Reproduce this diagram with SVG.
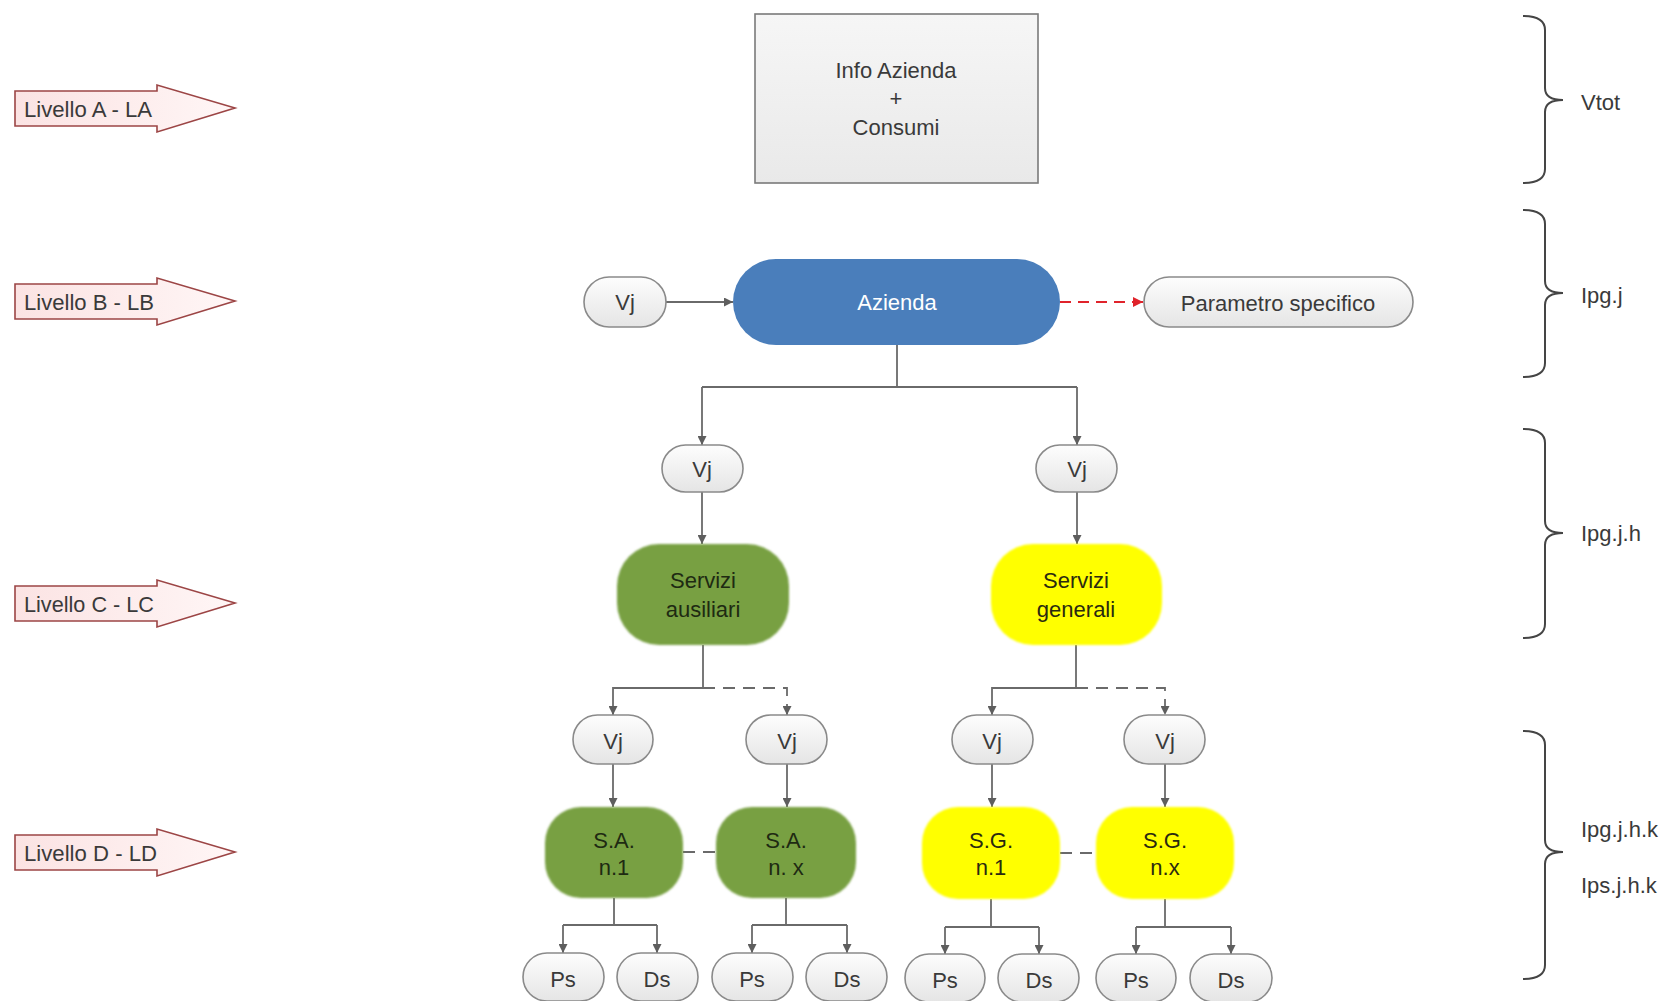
<svg xmlns="http://www.w3.org/2000/svg" width="1670" height="1001" viewBox="0 0 1670 1001">
<style>
  text { font-family: "Liberation Sans", Arial, sans-serif; font-size: 22px; fill: #3a3a3a; }
  .c { text-anchor: middle; }
  .pill { fill: url(#gGray); stroke: #8a8a8a; stroke-width: 1.6; }
  .lvl { fill: url(#gPink); stroke: #9c4545; stroke-width: 1.6; }
  .brace { fill: none; stroke: #454545; stroke-width: 2; }
  .conn { fill: none; stroke: #6a6a6a; stroke-width: 1.8; }
  .dash { fill: none; stroke: #6a6a6a; stroke-width: 1.8; stroke-dasharray: 12 8; }
  .red { fill: none; stroke: #e0232b; stroke-width: 2; stroke-dasharray: 11 7; }
</style>
<defs>
  <linearGradient id="gGray" x1="0" y1="0" x2="0" y2="1">
    <stop offset="0" stop-color="#fdfdfd"/>
    <stop offset="1" stop-color="#e5e5e5"/>
  </linearGradient>
  <linearGradient id="gBox" x1="0" y1="0" x2="0" y2="1">
    <stop offset="0" stop-color="#f6f6f6"/>
    <stop offset="1" stop-color="#e9e9e9"/>
  </linearGradient>
  <linearGradient id="gPink" x1="0" y1="0" x2="1" y2="0">
    <stop offset="0" stop-color="#fbe3e3"/>
    <stop offset="1" stop-color="#fff6f6"/>
  </linearGradient>
  <filter id="soft" x="-5%" y="-5%" width="110%" height="110%">
    <feGaussianBlur stdDeviation="1.2"/>
  </filter>
  <marker id="ah" viewBox="0 0 10 10" refX="10" refY="5" markerWidth="9" markerHeight="9" markerUnits="userSpaceOnUse" orient="auto">
    <path d="M0,0 L10,5 L0,10 z" fill="#5e5e5e"/>
  </marker>
  <marker id="ahr" viewBox="0 0 10 10" refX="10" refY="5" markerWidth="10" markerHeight="10" markerUnits="userSpaceOnUse" orient="auto">
    <path d="M0,0 L10,5 L0,10 z" fill="#e0232b"/>
  </marker>
</defs>

<!-- Level arrows -->
<g id="livelloA">
  <polygon class="lvl" points="15,91 157,91 157,85 235,108 157,132 157,126 15,126"/>
  <text x="24" y="117" textLength="128" lengthAdjust="spacingAndGlyphs" font-size="24">Livello A - LA</text>
</g>
<g id="livelloB">
  <polygon class="lvl" points="15,284 157,284 157,278 235,301 157,325 157,319 15,319"/>
  <text x="24" y="310" textLength="130" lengthAdjust="spacingAndGlyphs" font-size="24">Livello B - LB</text>
</g>
<g id="livelloC">
  <polygon class="lvl" points="15,586 157,586 157,580 235,603 157,627 157,621 15,621"/>
  <text x="24" y="612" textLength="130" lengthAdjust="spacingAndGlyphs" font-size="24">Livello C - LC</text>
</g>
<g id="livelloD">
  <polygon class="lvl" points="15,835 157,835 157,829 235,852 157,876 157,870 15,870"/>
  <text x="24" y="861" textLength="133" lengthAdjust="spacingAndGlyphs" font-size="24">Livello D - LD</text>
</g>

<!-- Braces -->
<g id="braces">
  <path class="brace" d="M1523,16 Q1545,16 1545,30 L1545,88 Q1545,100 1563,100 Q1545,100 1545,112 L1545,169 Q1545,183 1523,183"/>
  <path class="brace" d="M1523,210 Q1545,210 1545,224 L1545,281 Q1545,293 1563,293 Q1545,293 1545,305 L1545,363 Q1545,377 1523,377"/>
  <path class="brace" d="M1523,429 Q1545,429 1545,443 L1545,521 Q1545,533 1563,533 Q1545,533 1545,545 L1545,624 Q1545,638 1523,638"/>
  <path class="brace" d="M1523,731 Q1545,731 1545,745 L1545,840 Q1545,852 1563,852 Q1545,852 1545,864 L1545,965 Q1545,979 1523,979"/>
</g>
<g id="braceLabels">
  <text x="1581" y="110">Vtot</text>
  <text x="1581" y="303">Ipg.j</text>
  <text x="1581" y="541">Ipg.j.h</text>
  <text x="1581" y="837">Ipg.j.h.k</text>
  <text x="1581" y="893">Ips.j.h.k</text>
</g>

<!-- Connectors -->
<g id="connectors">
  <path class="conn" d="M666,302 H733" marker-end="url(#ah)"/>
  <path class="red" d="M1060,302 H1143" marker-end="url(#ahr)"/>
  <path class="conn" d="M897,345 V387 M702,387 H1077"/>
  <path class="conn" d="M702,387 V445" marker-end="url(#ah)"/>
  <path class="conn" d="M1077,387 V445" marker-end="url(#ah)"/>
  <path class="conn" d="M702,492 V544" marker-end="url(#ah)"/>
  <path class="conn" d="M1077,492 V544" marker-end="url(#ah)"/>

  <path class="conn" d="M703,645 V688 H613 V715" marker-end="url(#ah)"/>
  <path class="dash" d="M703,688 H787 V715" marker-end="url(#ah)"/>
  <path class="conn" d="M1076,645 V688 H992 V715" marker-end="url(#ah)"/>
  <path class="dash" d="M1076,688 H1165 V715" marker-end="url(#ah)"/>

  <path class="conn" d="M613,764 V807" marker-end="url(#ah)"/>
  <path class="conn" d="M787,764 V807" marker-end="url(#ah)"/>
  <path class="conn" d="M992,764 V807" marker-end="url(#ah)"/>
  <path class="conn" d="M1165,764 V807" marker-end="url(#ah)"/>

  <path class="dash" d="M683,852 H716"/>
  <path class="dash" d="M1060,853 H1096"/>

  <path class="conn" d="M614,898 V925 M563,925 H657"/>
  <path class="conn" d="M563,925 V953" marker-end="url(#ah)"/>
  <path class="conn" d="M657,925 V953" marker-end="url(#ah)"/>
  <path class="conn" d="M786,898 V925 M752,925 H847"/>
  <path class="conn" d="M752,925 V953" marker-end="url(#ah)"/>
  <path class="conn" d="M847,925 V953" marker-end="url(#ah)"/>
  <path class="conn" d="M991,899 V927 M945,927 H1039"/>
  <path class="conn" d="M945,927 V954" marker-end="url(#ah)"/>
  <path class="conn" d="M1039,927 V954" marker-end="url(#ah)"/>
  <path class="conn" d="M1165,899 V927 M1136,927 H1231"/>
  <path class="conn" d="M1136,927 V954" marker-end="url(#ah)"/>
  <path class="conn" d="M1231,927 V954" marker-end="url(#ah)"/>
</g>

<!-- Level A -->
<g id="infoAzienda">
  <rect x="755" y="14" width="283" height="169" fill="url(#gBox)" stroke="#7a7a7a" stroke-width="1.6"/>
  <text class="c" x="896" y="78">Info Azienda</text>
  <text class="c" x="896" y="106">+</text>
  <text class="c" x="896" y="135">Consumi</text>
</g>

<!-- Level B -->
<g id="vjB">
  <rect class="pill" x="584" y="277" width="82" height="50" rx="25"/>
  <text class="c" x="625" y="310">Vj</text>
</g>
<g id="azienda">
  <rect x="733" y="259" width="327" height="86" rx="43" fill="#4a7ebb"/>
  <text class="c" x="897" y="310" fill="#ffffff" style="fill:#ffffff">Azienda</text>
</g>
<g id="parametro">
  <rect class="pill" x="1144" y="277" width="269" height="50" rx="25"/>
  <text class="c" x="1278" y="311" font-size="23">Parametro specifico</text>
</g>

<!-- Level C -->
<g id="vjC1">
  <rect class="pill" x="662" y="445" width="81" height="47" rx="23.5"/>
  <text class="c" x="702" y="477">Vj</text>
</g>
<g id="vjC2">
  <rect class="pill" x="1036" y="445" width="81" height="47" rx="23.5"/>
  <text class="c" x="1077" y="477">Vj</text>
</g>
<g id="serviziAusiliari">
  <rect x="617" y="544" width="172" height="101" rx="42" fill="#78a042" filter="url(#soft)"/>
  <text class="c" x="703" y="588" fill="#1e2a12" style="fill:#1e2a12">Servizi</text>
  <text class="c" x="703" y="617" style="fill:#1e2a12">ausiliari</text>
</g>
<g id="serviziGenerali">
  <rect x="991" y="544" width="171" height="101" rx="42" fill="#ffff00" filter="url(#soft)"/>
  <text class="c" x="1076" y="588" style="fill:#2a2a10">Servizi</text>
  <text class="c" x="1076" y="617" style="fill:#2a2a10">generali</text>
</g>

<!-- Level D -->
<g id="vjD1">
  <rect class="pill" x="573" y="715" width="80" height="49" rx="24.5"/>
  <text class="c" x="613" y="749">Vj</text>
</g>
<g id="vjD2">
  <rect class="pill" x="746" y="715" width="81" height="49" rx="24.5"/>
  <text class="c" x="787" y="749">Vj</text>
</g>
<g id="vjD3">
  <rect class="pill" x="952" y="715" width="81" height="49" rx="24.5"/>
  <text class="c" x="992" y="749">Vj</text>
</g>
<g id="vjD4">
  <rect class="pill" x="1124" y="715" width="81" height="49" rx="24.5"/>
  <text class="c" x="1165" y="749">Vj</text>
</g>
<g id="sa1">
  <rect x="545" y="807" width="138" height="91" rx="36" fill="#78a042" filter="url(#soft)"/>
  <text class="c" x="614" y="848" style="fill:#1e2a12">S.A.</text>
  <text class="c" x="614" y="875" style="fill:#1e2a12">n.1</text>
</g>
<g id="sax">
  <rect x="716" y="807" width="140" height="91" rx="36" fill="#78a042" filter="url(#soft)"/>
  <text class="c" x="786" y="848" style="fill:#1e2a12">S.A.</text>
  <text class="c" x="786" y="875" style="fill:#1e2a12">n. x</text>
</g>
<g id="sg1">
  <rect x="922" y="807" width="138" height="92" rx="36" fill="#ffff00" filter="url(#soft)"/>
  <text class="c" x="991" y="848" style="fill:#2a2a10">S.G.</text>
  <text class="c" x="991" y="875" style="fill:#2a2a10">n.1</text>
</g>
<g id="sgx">
  <rect x="1096" y="807" width="138" height="92" rx="36" fill="#ffff00" filter="url(#soft)"/>
  <text class="c" x="1165" y="848" style="fill:#2a2a10">S.G.</text>
  <text class="c" x="1165" y="875" style="fill:#2a2a10">n.x</text>
</g>

<!-- Ps / Ds -->
<g id="ps1"><rect class="pill" x="523" y="953" width="81" height="48" rx="24"/><text class="c" x="563" y="987">Ps</text></g>
<g id="ds1"><rect class="pill" x="617" y="953" width="81" height="48" rx="24"/><text class="c" x="657" y="987">Ds</text></g>
<g id="ps2"><rect class="pill" x="712" y="953" width="81" height="48" rx="24"/><text class="c" x="752" y="987">Ps</text></g>
<g id="ds2"><rect class="pill" x="806" y="953" width="81" height="48" rx="24"/><text class="c" x="847" y="987">Ds</text></g>
<g id="ps3"><rect class="pill" x="905" y="954" width="80" height="48" rx="24"/><text class="c" x="945" y="988">Ps</text></g>
<g id="ds3"><rect class="pill" x="998" y="954" width="81" height="48" rx="24"/><text class="c" x="1039" y="988">Ds</text></g>
<g id="ps4"><rect class="pill" x="1096" y="954" width="80" height="48" rx="24"/><text class="c" x="1136" y="988">Ps</text></g>
<g id="ds4"><rect class="pill" x="1190" y="954" width="82" height="48" rx="24"/><text class="c" x="1231" y="988">Ds</text></g>
</svg>
